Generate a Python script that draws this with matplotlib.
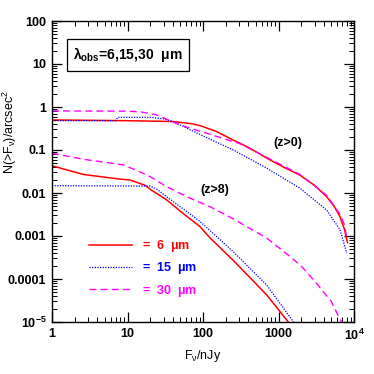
import matplotlib
matplotlib.use("Agg")
import matplotlib.pyplot as plt
from matplotlib.ticker import LogLocator, FixedLocator, FixedFormatter, NullFormatter

plt.rcParams['font.family'] = ['Liberation Sans', 'DejaVu Sans']
plt.rcParams['font.weight'] = 'bold'
plt.rcParams['mathtext.default'] = 'regular'

# z > 0 counts
flux_red_z0 = [1, 10, 40, 70, 91, 150, 252, 400, 695, 1200, 1927, 3000, 4350, 5500, 6530, 7500, 8200]
red_z0 = [0.50, 0.48, 0.46, 0.41, 0.37, 0.27, 0.17, 0.115, 0.065, 0.039, 0.026, 0.015, 0.0082,
          0.0048, 0.0028, 0.0014, 0.0007]
flux_mag_z0 = [1, 10, 15, 24, 33, 50, 112, 309, 695, 1927, 4350, 6530, 7500, 8000]
mag_z0 = [0.81, 0.80, 0.77, 0.66, 0.52, 0.38, 0.245, 0.14, 0.068, 0.027, 0.0088, 0.0032, 0.0018, 0.0009]
flux_blue_z0 = [1, 7, 7.4, 20, 30, 40, 91, 252, 695, 1927, 4350, 6530, 8000]
blue_z0 = [0.48, 0.48, 0.575, 0.575, 0.53, 0.46, 0.23, 0.1, 0.038, 0.0129, 0.004, 0.0014, 0.0004]

# z > 8 counts
flux_red_z8 = [1, 2.6, 7.2, 10.8, 17, 20, 33, 55, 91, 124, 252, 695, 1350]
red_z8 = [0.043, 0.027, 0.0215, 0.020, 0.0152, 0.0122, 0.0069, 0.0033, 0.00166, 0.0009, 0.00027,
          4.3e-5, 1e-5]
flux_blue_z8 = [1, 20, 25, 33, 91, 252, 695, 1580]
blue_z8 = [0.0148, 0.0145, 0.012, 0.0082, 0.0022, 0.00043, 7.3e-5, 1e-5]
flux_mag_z8 = [1, 2.6, 8.8, 13, 20, 33, 67, 124, 252, 695, 1430, 2000, 3000, 5000, 6800]
mag_z8 = [0.084, 0.061, 0.045, 0.034, 0.024, 0.014, 0.0076, 0.0048, 0.0025, 0.0009, 0.00033,
          0.0002, 9e-5, 3e-5, 1e-5]

ytick_vals = [1e-5, 1e-4, 1e-3, 1e-2, 1e-1, 1, 10, 100]
ytick_labels = [r'10$^{-5}$', '0.0001', '0.001', '0.01', '0.1', '1', '10', '100']
xtick_vals = [1, 10, 100, 1000, 10000]
xtick_labels = ['1', '10', '100', '1000', r'10$^{4}$']

solid = '-'
dotted = (0, (1, 1.1))
dashed = (0, (5, 3))

fig = plt.figure(figsize=(3.74, 3.74), dpi=100)
ax = fig.add_axes([52/374, 1 - 322/374, 302/374, 301/374])

ax.plot(flux_red_z0, red_z0, color='red', lw=1.1, ls=solid)
ax.plot(flux_blue_z0, blue_z0, color='blue', lw=0.9, ls=dotted)
ax.plot(flux_mag_z0, mag_z0, color='magenta', lw=1.0, ls=dashed)
ax.plot(flux_red_z8, red_z8, color='red', lw=1.1, ls=solid)
ax.plot(flux_blue_z8, blue_z8, color='blue', lw=0.9, ls=dotted)
ax.plot(flux_mag_z8, mag_z8, color='magenta', lw=1.0, ls=dashed)

ax.set_xscale('log')
ax.set_yscale('log')
ax.set_xlim(1, 1e4)
ax.set_ylim(1e-5, 100)

ax.xaxis.set_major_locator(FixedLocator(xtick_vals))
ax.xaxis.set_major_formatter(FixedFormatter(xtick_labels))
ax.yaxis.set_major_locator(FixedLocator(ytick_vals))
ax.yaxis.set_major_formatter(FixedFormatter(ytick_labels))
ax.xaxis.set_minor_locator(LogLocator(base=10, subs=range(2, 10), numticks=20))
ax.yaxis.set_minor_locator(LogLocator(base=10, subs=range(2, 10), numticks=20))
ax.xaxis.set_minor_formatter(NullFormatter())
ax.yaxis.set_minor_formatter(NullFormatter())
ax.tick_params(which='both', direction='in', top=True, right=True, labelsize=9)
ax.tick_params(which='major', length=7, width=0.9, pad=4)
ax.tick_params(which='minor', length=3.5, width=0.7)
for s in ax.spines.values():
    s.set_linewidth(1.0)

ax.set_xlabel(r'F$_\nu$/nJy', fontsize=9)
ax.xaxis.set_label_coords(0.5, -26/301)
ax.set_ylabel(r'N(>F$_\nu$)/arcsec$^2$', fontsize=9)
ax.yaxis.set_label_coords(-33/302, 0.63)

fig.text(288/374, 1 - 143/374, '(z>0)', fontsize=9, ha='center', va='center')
fig.text(215/374, 1 - 190/374, '(z>8)', fontsize=9, ha='center', va='center')
fig.text(128/374, 1 - 55/374, r'$\lambda_{obs}$=6,15,30  $\mu$m', fontsize=10, ha='center', va='center',
         bbox=dict(boxstyle='square,pad=0.45', fc='white', ec='black', lw=0.9))

handles = [
    plt.Line2D([], [], color='red', lw=1.1, ls=solid),
    plt.Line2D([], [], color='blue', lw=0.9, ls=dotted),
    plt.Line2D([], [], color='magenta', lw=1.0, ls=dashed),
]
ax.legend(handles, [r'=  6  $\mu$m', r'=  15  $\mu$m', r'=  30  $\mu$m'],
          loc='upper left', bbox_to_anchor=(0.105, 0.295), frameon=False,
          fontsize=9, handlelength=3.5, handletextpad=0.75, labelspacing=0.5,
          labelcolor=['red', 'blue', 'magenta'], borderaxespad=0)

fig.savefig('out.png', dpi=100)
